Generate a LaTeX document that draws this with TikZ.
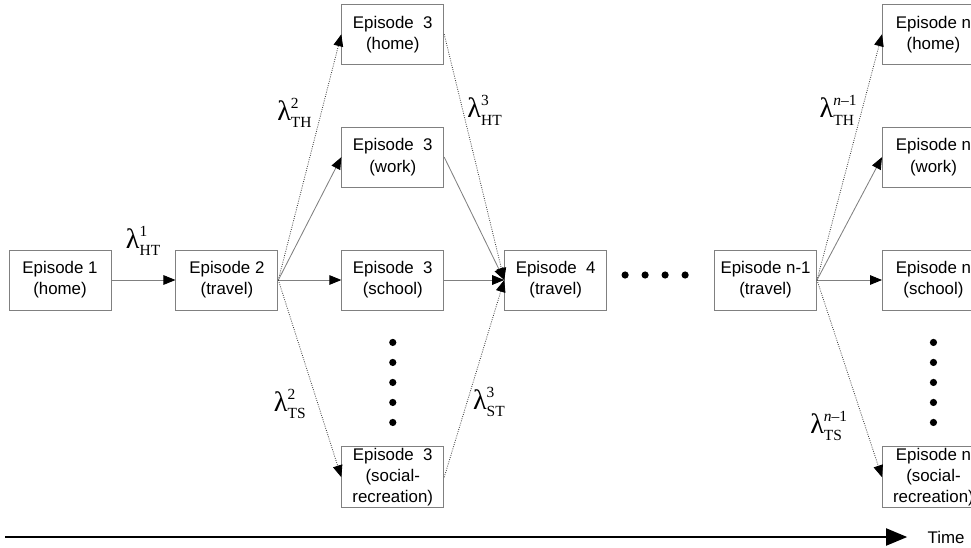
\documentclass[tikz,border=0pt]{standalone}
\usepackage[no-math]{fontspec}
\setmainfont{Liberation Sans}
\newfontfamily\ratefont{Liberation Serif}
\usetikzlibrary{arrows.meta, positioning}

% transition rate label: lambda with superscript and subscript
\newcommand{\lamrate}[2]{$\mbox{\ratefont λ}^{\mbox{\ratefont\fontsize{11}{11}\selectfont #1}}_{\mbox{\ratefont\fontsize{11}{11}\selectfont #2}}$}

\begin{document}
\begin{tikzpicture}[x=0.025cm, y=-0.025cm, node distance=1.55cm,
 episode/.style={draw=gray, line width=0.6pt, minimum width=2.55cm, minimum height=1.5cm,
   inner sep=1pt, align=center, font=\fontsize{12}{15}\selectfont},
 link/.style={draw=gray, line width=0.6pt, -{Triangle[length=0.3cm, width=0.24cm, color=black]}},
 dotlink/.style={link, draw=black!75, densely dotted},
 rate/.style={font=\fontsize{20}{24}\selectfont, inner sep=1pt},
 timeline/.style={line width=2pt, -{Triangle[length=0.53cm, width=0.42cm]}, shorten >=0.5cm}]
  \useasboundingbox (0,0) rectangle (971,547);

  % episodes
  \node[episode] (e1) at (60,280) {Episode 1\\(home)};
  \node[episode] (e2) [right=1.6cm of e1] {Episode 2\\(travel)};
  \node[episode] (e3school) [right=1.575cm of e2] {Episode~ 3\\(school)};
  \node[episode] (e3work) [above=of e3school] {Episode~ 3\\(work)};
  \node[episode] (e3home) [above=of e3work] {Episode~ 3\\(home)};
  \node[episode] (e3social) [below=3.4cm of e3school] {Episode~ 3\\(social-\\recreation)};
  \node[episode] (e4) [right=1.5cm of e3school] {Episode~ 4\\(travel)};
  \node[episode] (en1) [right=2.675cm of e4] {Episode n-1\\(travel)};
  \node[episode] (enschool) [right=1.625cm of en1] {Episode n\\(school)};
  \node[episode] (enwork) [above=of enschool] {Episode n\\(work)};
  \node[episode] (enhome) [above=of enwork] {Episode n\\(home)};
  \node[episode] (ensocial) [below=3.4cm of enschool] {Episode n\\(social-\\recreation)};

  % dots
  \foreach \k in {1,...,5} {
    \fill ([yshift=-0.3cm-\k*0.5cm]e3school.south) circle (0.09cm);
    \fill ([yshift=-0.3cm-\k*0.5cm]enschool.south) circle (0.09cm);
  }
  \foreach \k in {0,...,3}
    \fill ([xshift=0.45cm+\k*0.5cm, yshift=0.125cm]e4.east) circle (0.09cm);

  % transitions
  \draw[link] (e1) -- node[rate, above=16pt] {\lamrate{1}{HT}} (e2);
  \draw[dotlink] (e2.east) -- node[rate, left=5pt, pos=0.68] {\lamrate{2}{TH}} (e3home.west);
  \draw[link] (e2.east) -- (e3work.west);
  \draw[link] (e2) -- (e3school);
  \draw[dotlink] (e2.east) -- node[rate, left=7pt, pos=0.63] {\lamrate{2}{TS}} (e3social.west);

  \draw[dotlink] (e3home.east) -- node[rate, right=2pt, pos=0.31] {\lamrate{3}{HT}} (e4.west);
  \draw[link] (e3work.east) -- (e4.west);
  \draw[link] (e3school) -- (e4);
  \draw[dotlink] (e3social.east) -- node[rate, right=3pt, pos=0.38] {\lamrate{3}{ST}} (e4.west);

  \draw[dotlink] (en1.east) -- node[rate, left=2pt, pos=0.69] {\lamrate{\textit{n}–1}{TH}} (enhome.west);
  \draw[link] (en1.east) -- (enwork.west);
  \draw[link] (en1) -- (enschool);
  \draw[dotlink] (en1.east) -- node[rate, left=11pt, pos=0.74] {\lamrate{\textit{n}–1}{TS}} (ensocial.west);

  % time axis
  \node[inner sep=0pt, font=\fontsize{12}{15}\selectfont] (time) at (946,537) {Time};
  \coordinate (t0) at (5,537);
  \draw[timeline] (t0) -- (time);
\end{tikzpicture}
\end{document}
